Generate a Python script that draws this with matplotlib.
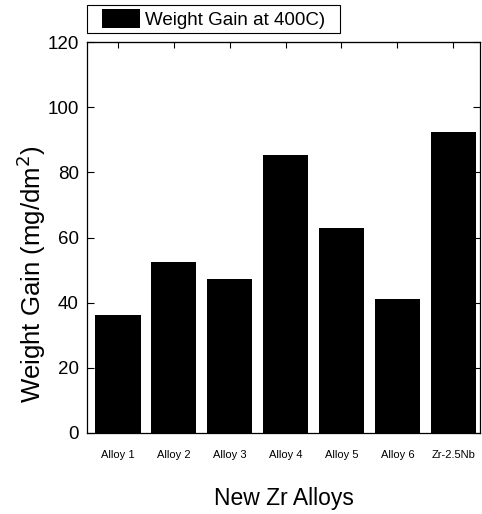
import matplotlib
matplotlib.use("Agg")
import matplotlib.pyplot as plt
from matplotlib.patches import Rectangle
from matplotlib.legend_handler import HandlerPatch
from matplotlib.container import BarContainer
import numpy as np

categories = ["Alloy 1", "Alloy 2", "Alloy 3", "Alloy 4", "Alloy 5", "Alloy 6", "Zr-2.5Nb"]
weight_gain = [36.3, 52.4, 47.3, 85.4, 62.8, 41.2, 92.5]
series_label = "Weight Gain at 400C)"

plt.rcParams['font.family'] = ['Liberation Sans', 'DejaVu Sans']

fig = plt.figure(figsize=(4.82, 5.14), dpi=100)
ax = fig.add_axes([0.1805, 0.1576, 0.8154, 0.7604])

x = np.arange(1, len(categories) + 1)
bars = ax.bar(x, weight_gain, width=0.81, color='black', label=series_label)

ax.set_xlim(0.445, 7.48)
ax.set_ylim(0, 120)
ax.set_yticks(np.arange(0, 121, 20))
ax.set_xticks(x)
ax.set_xticklabels(categories, fontsize=8)
ax.tick_params(axis='x', which='major', direction='in', length=0, pad=12.5, top=False)
ax.tick_params(axis='y', which='major', direction='in', length=5, labelsize=13.5,
               right=True, pad=6)
for s in ax.spines.values():
    s.set_linewidth(0.9)

# top ticks at category positions
sec = ax.secondary_xaxis('top')
sec.set_xticks(x)
sec.set_xticklabels([])
sec.tick_params(direction='in', length=4)

ax.set_ylabel("Weight Gain (mg/dm$^2$)", fontsize=18.5, va='center')
ax.yaxis.set_label_coords(-0.1425, 0.407)
ax.set_xlabel("New Zr Alloys", fontsize=16.5, va='center')
ax.xaxis.set_label_coords(0.5, -0.167)


def inset_rect(legend, orig_handle, xdescent, ydescent, width, height, fontsize):
    off = 0.224 * width
    return Rectangle((-xdescent + off, -ydescent), width - off, height)


def from_first_child(tgt, src):
    first = next(iter(src), None)
    if first is not None:
        tgt.update_from(first)


leg = ax.legend(loc='lower left',
                bbox_to_anchor=(87 / 482, 1 - 33 / 514, 253 / 482, 28 / 514),
                bbox_transform=fig.transFigure, mode='expand', fontsize=13.5,
                frameon=True, fancybox=False, edgecolor='black', framealpha=1,
                handlelength=2.61, handleheight=1.15, borderpad=0.22,
                handletextpad=0.27, borderaxespad=0,
                handler_map={BarContainer: HandlerPatch(patch_func=inset_rect,
                                                        update_func=from_first_child)})
leg.get_frame().set_linewidth(0.8)

fig.savefig("out.png", dpi=100)
